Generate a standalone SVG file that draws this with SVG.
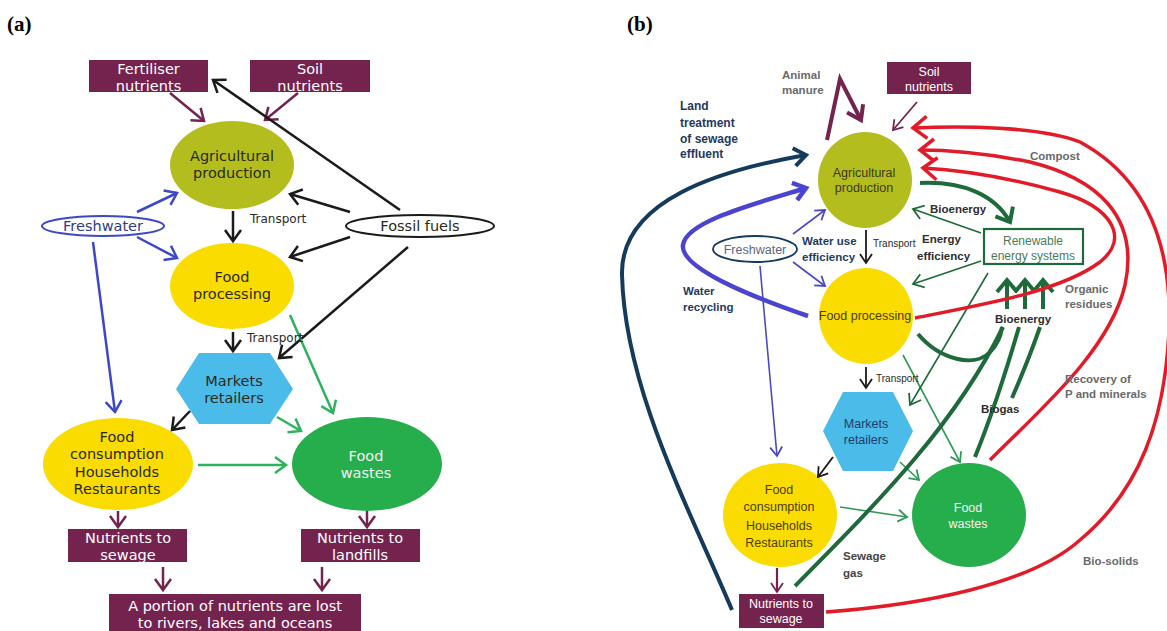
<svg xmlns="http://www.w3.org/2000/svg" width="1167" height="631" viewBox="0 0 1167 631">
<defs>
<style>
.ta{font-family:"DejaVu Sans",sans-serif;font-size:14.5px;text-anchor:middle;fill:#2a2a1a}
.tsa{font-family:"DejaVu Sans",sans-serif;font-size:12px;fill:#2a2a2a}
.tb{font-family:"Liberation Sans",Arial,sans-serif;font-size:12.5px;text-anchor:middle}
.lb{font-family:"Liberation Sans",Arial,sans-serif;font-size:12px;font-weight:bold}
.lg{font-family:"Liberation Sans",Arial,sans-serif;font-size:11.5px;font-weight:bold;fill:#6a6a6a}
.nv{fill:#1f3a5f}
.dk{fill:#2e2e2e}
.w{fill:#ffffff}
.mb{fill:#74234f}
.yl{fill:#fbdc00}
.ol{fill:#b4bd1e}
.bl{fill:#4bbbea}
.gr{fill:#26ae4c}
.ln{fill:none;stroke-linecap:butt}
.k{stroke:#1a1a1a;stroke-width:2.5}
.ba{stroke:#3c48c8;stroke-width:2.5}
.ma{stroke:#74234f;stroke-width:2.5}
.ga{stroke:#2db35d;stroke-width:2.5}
.k1{stroke:#1a1a1a;stroke-width:1.8}
.b1{stroke:#4a48c4;stroke-width:1.6}
.g1{stroke:#2e9a58;stroke-width:1.6}
.dg1{stroke:#1e6a3a;stroke-width:1.6}
.m1{stroke:#74234f;stroke-width:1.8}
.nvT{stroke:#143a5c;stroke-width:4}
.blT{stroke:#4a44d0;stroke-width:4.5}
.dgT{stroke:#1e6a3a;stroke-width:4}
.rd{stroke:#e11b28;stroke-width:3.5}
.mT{stroke:#74234f;stroke-width:4}
</style>
<marker id="mk" markerUnits="userSpaceOnUse" orient="auto" overflow="visible" refX="0" refY="0"><path d="M-11,-8 L0,0 L-11,8" fill="none" stroke="#1a1a1a" stroke-width="2.5"/></marker>
<marker id="mba" markerUnits="userSpaceOnUse" orient="auto" overflow="visible" refX="0" refY="0"><path d="M-11,-8 L0,0 L-11,8" fill="none" stroke="#3c48c8" stroke-width="2.5"/></marker>
<marker id="mma" markerUnits="userSpaceOnUse" orient="auto" overflow="visible" refX="0" refY="0"><path d="M-11,-8 L0,0 L-11,8" fill="none" stroke="#74234f" stroke-width="2.5"/></marker>
<marker id="mga" markerUnits="userSpaceOnUse" orient="auto" overflow="visible" refX="0" refY="0"><path d="M-11,-8 L0,0 L-11,8" fill="none" stroke="#2db35d" stroke-width="2.5"/></marker>
<marker id="mk1" markerUnits="userSpaceOnUse" orient="auto" overflow="visible" refX="0" refY="0"><path d="M-9,-6 L0,0 L-9,6" fill="none" stroke="#1a1a1a" stroke-width="1.8"/></marker>
<marker id="mb1" markerUnits="userSpaceOnUse" orient="auto" overflow="visible" refX="0" refY="0"><path d="M-9,-6 L0,0 L-9,6" fill="none" stroke="#4a48c4" stroke-width="1.8"/></marker>
<marker id="mg1" markerUnits="userSpaceOnUse" orient="auto" overflow="visible" refX="0" refY="0"><path d="M-9,-6 L0,0 L-9,6" fill="none" stroke="#2e9a58" stroke-width="1.8"/></marker>
<marker id="mdg1" markerUnits="userSpaceOnUse" orient="auto" overflow="visible" refX="0" refY="0"><path d="M-10,-7 L0,0 L-10,7" fill="none" stroke="#1e6a3a" stroke-width="1.8"/></marker>
<marker id="mm1" markerUnits="userSpaceOnUse" orient="auto" overflow="visible" refX="0" refY="0"><path d="M-9,-6 L0,0 L-9,6" fill="none" stroke="#74234f" stroke-width="1.8"/></marker>
<marker id="mnvT" markerUnits="userSpaceOnUse" orient="auto" overflow="visible" refX="0" refY="0"><path d="M-12,-9 L0,0 L-12,9" fill="none" stroke="#143a5c" stroke-width="4"/></marker>
<marker id="mblT" markerUnits="userSpaceOnUse" orient="auto" overflow="visible" refX="0" refY="0"><path d="M-12,-9 L0,0 L-12,9" fill="none" stroke="#4a44d0" stroke-width="4.5"/></marker>
<marker id="mdgT" markerUnits="userSpaceOnUse" orient="auto" overflow="visible" refX="0" refY="0"><path d="M-12,-10 L0,0 L-12,10" fill="none" stroke="#1e6a3a" stroke-width="4"/></marker>
<marker id="mmT" markerUnits="userSpaceOnUse" orient="auto" overflow="visible" refX="0" refY="0"><path d="M-13,-9 L0,0 L-13,9" fill="none" stroke="#74234f" stroke-width="4"/></marker>
<marker id="mrd" markerUnits="userSpaceOnUse" orient="auto" overflow="visible" refX="0" refY="0"><path d="M-14,-11 L0,0 L-14,11" fill="none" stroke="#e11b28" stroke-width="3.5"/></marker>
</defs>
<rect x="0" y="0" width="1167" height="631" fill="#ffffff"/>

<g id="panel-labels" font-family="Liberation Serif, serif" font-weight="bold" font-size="21px" fill="#000">
<text x="7" y="31">(a)</text>
<text x="627" y="31">(b)</text>
</g>

<!-- ============ Panel (a) nodes ============ -->
<g id="a-fertiliser"><rect x="89" y="60" width="119" height="32" class="mb"/><text x="148.5" y="74" class="ta w">Fertiliser</text><text x="148.5" y="91" class="ta w">nutrients</text></g>
<g id="a-soil"><rect x="250" y="60" width="120" height="32" class="mb"/><text x="310" y="74" class="ta w">Soil</text><text x="310" y="91" class="ta w">nutrients</text></g>
<g id="a-agri"><ellipse cx="232" cy="165" rx="62" ry="44" class="ol"/><text x="232" y="161" class="ta">Agricultural</text><text x="232" y="178" class="ta">production</text></g>
<g id="a-freshwater"><ellipse cx="103" cy="226" rx="61" ry="10" fill="#fff" stroke="#3c48c8" stroke-width="2"/><text x="103" y="231" class="ta" style="fill:#2c3c8a">Freshwater</text></g>
<g id="a-fossil"><ellipse cx="420" cy="226" rx="74" ry="11" fill="#fff" stroke="#1a1a1a" stroke-width="2"/><text x="420" y="231" class="ta">Fossil fuels</text></g>
<g id="a-foodproc"><ellipse cx="232" cy="286" rx="62" ry="43" class="yl"/><text x="232" y="282" class="ta">Food</text><text x="232" y="299" class="ta">processing</text></g>
<g id="a-markets"><polygon points="176,389 199,353 270,353 293,389 270,424 199,424" class="bl"/><text x="234" y="386" class="ta">Markets</text><text x="234" y="403" class="ta">retailers</text></g>
<g id="a-foodcons"><ellipse cx="118" cy="464" rx="75" ry="46" class="yl"/><text x="117" y="442" class="ta">Food</text><text x="117" y="459" class="ta">consumption</text><text x="117" y="477" class="ta">Households</text><text x="117" y="494" class="ta">Restaurants</text></g>
<g id="a-foodwastes"><ellipse cx="367" cy="464" rx="75" ry="47" class="gr"/><text x="366" y="461" class="ta" style="fill:#f7eef6">Food</text><text x="366" y="478" class="ta" style="fill:#f7eef6">wastes</text></g>
<g id="a-sewage"><rect x="68" y="529" width="119" height="33" class="mb"/><text x="128" y="543" class="ta w">Nutrients to</text><text x="128" y="560" class="ta w">sewage</text></g>
<g id="a-landfills"><rect x="301" y="529" width="119" height="33" class="mb"/><text x="360" y="543" class="ta w">Nutrients to</text><text x="360" y="560" class="ta w">landfills</text></g>
<g id="a-lost"><rect x="109" y="594" width="252" height="37" class="mb"/><text x="235" y="611" class="ta w">A portion of nutrients are lost</text><text x="235" y="628" class="ta w">to rivers, lakes and oceans</text></g>

<!-- ============ Panel (a) connectors ============ -->
<g id="a-connectors">
<path d="M170,93 L204,121" class="ln ma" marker-end="url(#mma)"/>
<path d="M298,93 L265,120" class="ln ma" marker-end="url(#mma)"/>
<path d="M400,210 L213,80" class="ln k" marker-end="url(#mk)"/>
<path d="M350,212 L290,194" class="ln k" marker-end="url(#mk)"/>
<path d="M350,237 L290,257" class="ln k" marker-end="url(#mk)"/>
<path d="M408,247 L279,358" class="ln k" marker-end="url(#mk)"/>
<path d="M137,212 L177,193" class="ln ba" marker-end="url(#mba)"/>
<path d="M137,237 L177,258" class="ln ba" marker-end="url(#mba)"/>
<path d="M93,242 L115,412" class="ln ba" marker-end="url(#mba)"/>
<path d="M233,211 L233,241" class="ln k" marker-end="url(#mk)"/>
<path d="M233,332 L233,351" class="ln k" marker-end="url(#mk)"/>
<path d="M290,315 L333,413" class="ln ga" marker-end="url(#mga)"/>
<path d="M190,411 L172,430" class="ln k" marker-end="url(#mk)"/>
<path d="M277,417 L301,431" class="ln ga" marker-end="url(#mga)"/>
<path d="M198,465 L286,465" class="ln ga" marker-end="url(#mga)"/>
<path d="M118,511 L118,527" class="ln ma" marker-end="url(#mma)"/>
<path d="M367,511 L367,527" class="ln ma" marker-end="url(#mma)"/>
<path d="M163,567 L163,590" class="ln ma" marker-end="url(#mma)"/>
<path d="M322,567 L322,590" class="ln ma" marker-end="url(#mma)"/>
<text x="250" y="223" class="tsa">Transport</text>
<text x="247" y="342" class="tsa">Transport</text>
</g>

<!-- ============ Panel (b) nodes ============ -->
<g id="b-soil"><rect x="887" y="62" width="84" height="32" class="mb"/><text x="929" y="76" class="tb w">Soil</text><text x="929" y="91" class="tb w">nutrients</text></g>
<g id="b-agri"><ellipse cx="865" cy="180" rx="47" ry="48" class="ol"/><text x="864" y="177" class="tb" fill="#3a3a18">Agricultural</text><text x="864" y="192" class="tb" fill="#3a3a18">production</text></g>
<g id="b-freshwater"><ellipse cx="755" cy="249" rx="42" ry="13" fill="#fff" stroke="#143a5c" stroke-width="1.8"/><text x="755" y="254" class="tb" fill="#5a6888">Freshwater</text></g>
<g id="b-renewable"><rect x="984" y="229" width="99" height="35" fill="#fff" stroke="#1e6a3a" stroke-width="2.2"/><text x="1033" y="245" class="tb" style="font-size:12px" fill="#4c7a58">Renewable</text><text x="1033" y="260" class="tb" style="font-size:12px" fill="#4c7a58">energy systems</text></g>
<g id="b-foodproc"><ellipse cx="866" cy="316" rx="47" ry="48" class="yl"/><text x="865" y="320" class="tb" fill="#4a4000">Food processing</text></g>
<g id="b-markets"><polygon points="823,431 843,392 893,392 913,431 893,471 843,471" class="bl"/><text x="866" y="428" class="tb" fill="#1f3d6b">Markets</text><text x="866" y="444" class="tb" fill="#1f3d6b">retailers</text></g>
<g id="b-foodcons"><ellipse cx="780" cy="515" rx="57" ry="52" class="yl"/><text x="779" y="494" class="tb" fill="#4a4000">Food</text><text x="779" y="511" class="tb" fill="#4a4000">consumption</text><text x="779" y="530" class="tb" fill="#4a4000">Households</text><text x="779" y="547" class="tb" fill="#4a4000">Restaurants</text></g>
<g id="b-foodwastes"><ellipse cx="969" cy="515" rx="57" ry="52" class="gr"/><text x="968" y="512" class="tb" fill="#f7eef6">Food</text><text x="968" y="528" class="tb" fill="#f7eef6">wastes</text></g>
<g id="b-sewage"><rect x="739" y="594" width="85" height="34" class="mb"/><text x="781" y="608" class="tb w">Nutrients to</text><text x="781" y="623" class="tb w">sewage</text></g>

<!-- ============ Panel (b) connectors ============ -->
<g id="b-connectors">
<path d="M732,610 C690,510 625,390 622,275 C620,200 720,170 806,155" class="ln nvT" marker-end="url(#mnvT)"/>
<path d="M808,316 C750,296 680,268 683,245 C686,222 750,205 806,188" class="ln blT" marker-end="url(#mblT)"/>
<path d="M827,140 L840,79 L861,120" class="ln mT" stroke-linejoin="miter" marker-end="url(#mmT)"/>
<path d="M917,102 L893,130" class="ln m1" marker-end="url(#mm1)"/>
<path d="M793,234 L825,210" class="ln b1" marker-end="url(#mb1)"/>
<path d="M793,262 L825,286" class="ln b1" marker-end="url(#mb1)"/>
<path d="M760,266 L777,456" class="ln b1" marker-end="url(#mb1)"/>
<path d="M866,230 L866,263" class="ln k1" marker-end="url(#mk1)"/>
<path d="M866,367 L866,388" class="ln k1" marker-end="url(#mk1)"/>
<path d="M833,457 L818,477" class="ln k1" marker-end="url(#mk1)"/>
<path d="M900,462 L919,480" class="ln g1" marker-end="url(#mg1)"/>
<path d="M840,507 L907,517" class="ln g1" marker-end="url(#mg1)"/>
<path d="M903,355 L960,462" class="ln g1" marker-end="url(#mg1)"/>
<path d="M777,568 L777,592" class="ln m1" style="stroke-width:2.2" marker-end="url(#mm1)"/>
<path d="M920,183 C963,181 995,195 1010,222" class="ln dgT" marker-end="url(#mdgT)"/>
<path d="M981,233 L913,209" class="ln dg1" marker-end="url(#mdg1)"/>
<path d="M981,261 L913,284" class="ln dg1" marker-end="url(#mdg1)"/>
<path d="M988,273 L910,405" class="ln dg1" marker-end="url(#mdg1)"/>
<path d="M918,334 C940,360 975,368 990,352 C998,344 1001,336 1002,327" class="ln dgT"/>
<path d="M795,586 C880,500 955,425 1003,327" class="ln dgT"/>
<path d="M975,457 C990,420 1005,375 1019,327" class="ln dgT"/>
<path d="M1012,398 C1022,375 1032,350 1040,327" class="ln dgT"/>
<path d="M1007,309 L1007,280" class="ln dgT" marker-end="url(#mdgT)"/>
<path d="M1025,309 L1025,280" class="ln dgT" marker-end="url(#mdgT)"/>
<path d="M1043,309 L1043,280" class="ln dgT" marker-end="url(#mdgT)"/>
<path d="M826,612 C920,605 1030,585 1080,540 C1140,490 1165,420 1169,330 C1172,250 1150,180 1080,142 C1040,126 960,126 913,128" class="ln rd" marker-end="url(#mrd)"/>
<path d="M990,460 C1040,410 1110,350 1125,285 C1140,215 1095,178 1030,162 C985,153 950,150 920,150" class="ln rd" marker-end="url(#mrd)"/>
<path d="M915,318 C980,305 1060,292 1100,262 C1130,238 1112,207 1060,192 C1010,178 960,170 923,168" class="ln rd" marker-end="url(#mrd)"/>
<text x="782" y="79" class="lg">Animal</text>
<text x="782" y="94" class="lg">manure</text>
<text x="680" y="110" class="lb nv">Land</text>
<text x="680" y="127" class="lb nv">treatment</text>
<text x="680" y="143" class="lb nv">of sewage</text>
<text x="680" y="158" class="lb nv">effluent</text>
<text x="1030" y="160" class="lg">Compost</text>
<text x="930" y="213" class="lb dk" style="font-size:11.5px">Bioenergy</text>
<text x="922" y="243" class="lb dk" style="font-size:11.5px">Energy</text>
<text x="917" y="260" class="lb dk" style="font-size:11.5px">efficiency</text>
<text x="873" y="247" class="tb" style="font-size:10px;text-anchor:start" fill="#2a2a2a">Transport</text>
<text x="876" y="382" class="tb" style="font-size:10px;text-anchor:start" fill="#2a2a2a">Transport</text>
<text x="802" y="245" class="lb nv" style="font-size:11.5px">Water use</text>
<text x="802" y="261" class="lb nv" style="font-size:11.5px">efficiency</text>
<text x="683" y="295" class="lb nv" style="font-size:11.5px">Water</text>
<text x="683" y="311" class="lb nv" style="font-size:11.5px">recycling</text>
<text x="1065" y="293" class="lg">Organic</text>
<text x="1065" y="308" class="lg">residues</text>
<text x="995" y="323" class="lb dk" style="font-size:11.5px">Bioenergy</text>
<text x="1065" y="383" class="lg">Recovery of</text>
<text x="1065" y="398" class="lg">P and minerals</text>
<text x="981" y="413" class="lb dk" style="font-size:11.5px">Biogas</text>
<text x="843" y="560" class="lb" style="font-size:11.5px" fill="#444">Sewage</text>
<text x="843" y="577" class="lb" style="font-size:11.5px" fill="#444">gas</text>
<text x="1083" y="565" class="lg">Bio-solids</text>
</g>
</svg>
